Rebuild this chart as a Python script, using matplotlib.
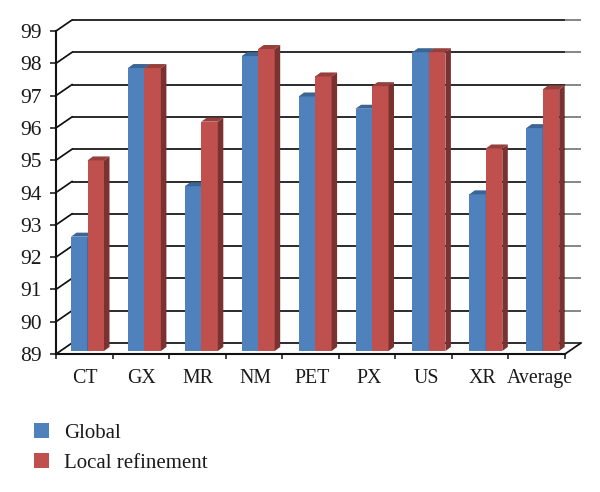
import numpy as np
import matplotlib
matplotlib.use("Agg")
import matplotlib.pyplot as plt
from matplotlib.patches import Patch, Polygon

categories = ['CT', 'GX', 'MR', 'NM', 'PET', 'PX', 'US', 'XR', 'Average']
global_vals = [92.54, 97.76, 94.1, 98.13, 96.88, 96.5, 98.25, 93.85, 95.9]
local_vals = [94.9, 97.76, 96.1, 98.35, 97.5, 97.2, 98.25, 95.27, 97.1]
y_ticks = [89, 90, 91, 92, 93, 94, 95, 96, 97, 98, 99]

plt.rcParams['font.family'] = ['Liberation Serif', 'DejaVu Serif']

W, H = 600, 492
fig = plt.figure(figsize=(W / 100, H / 100), dpi=100)
ax = fig.add_axes([56 / W, 1 - 354 / H, (565 - 56) / W, (354 - 31) / H])
ax.set_xlim(0, len(categories))
ax.set_ylim(89, 99)

# size of one pixel in data units, for the fake 3d offsets
px_x = len(categories) / (565 - 56)
px_y = 10 / (354 - 31)

# back wall and the diagonals joining it to the front axis
wall_x, wall_y = 16 * px_x, 11 * px_y
x_end = len(categories)
for v in y_ticks:
    ax.plot([wall_x, x_end], [v + wall_y, v + wall_y], color='#111111', lw=1.25,
            clip_on=False, zorder=1, solid_capstyle='butt')
    ax.plot([x_end, x_end + wall_x], [v + wall_y, v + wall_y],
            color='#222222' if v == 89 else '#777777', lw=1.25, clip_on=False, zorder=1,
            solid_capstyle='butt')
    ax.plot([0, wall_x], [v, v + wall_y], color='#111111', lw=1.25, clip_on=False, zorder=1)
ax.plot([x_end, x_end + wall_x], [89, 89 + wall_y], color='#111111', lw=1.25, clip_on=False, zorder=1)


def draw_bars(vals, xs, width, face, top, side, z):
    # base sits a little above the front axis, like the depth of the 3d bars
    sy = 3 * px_y
    dx, dy = 5.5 * px_x, 4 * px_y
    ax.bar(xs, np.array(vals) - 89, width, bottom=89 + sy, color=face, align='edge',
           clip_on=False, zorder=z, linewidth=0)
    for x, v in zip(xs, vals):
        v = v + sy
        ax.add_patch(Polygon([(x, v), (x + width, v), (x + width + dx, v + dy), (x + dx, v + dy)],
                             closed=True, fc=top, ec='none', clip_on=False, zorder=z))
        ax.add_patch(Polygon([(x + width, 89 + sy), (x + width + dx, 89 + sy + dy),
                              (x + width + dx, v + dy), (x + width, v)],
                             closed=True, fc=side, ec='none', clip_on=False, zorder=z))


# bars and labels step a bit wider than the ticks in the original
idx = np.arange(len(categories))
bar_mid = (31.5 + 56.9 * idx) * px_x
label_pos = (28.5 + 56.9 * idx) * px_x
bar_w = 16.5 * px_x
draw_bars(global_vals, bar_mid - bar_w, bar_w, '#4F81BD', '#3A6595', '#2F5580', 3)
draw_bars(local_vals, bar_mid, bar_w, '#C0504D', '#96403D', '#7A3230', 4)

for name in ['top', 'right']:
    ax.spines[name].set_visible(False)
for name in ['left', 'bottom']:
    ax.spines[name].set_linewidth(1.5)
    ax.spines[name].set_color('#111111')
    ax.spines[name].set_zorder(5)

ax.set_yticks(y_ticks)
ax.set_yticklabels([str(v) for v in y_ticks], fontsize=15.5, color='#1a1a1a')
ax.tick_params(axis='y', length=4.5, width=1.1, pad=6, color='#111111')
ax.set_xticks(np.arange(len(categories) + 1))
ax.set_xticklabels([])
ax.tick_params(axis='x', which='major', length=3.5, width=1.1, color='#111111')
ax.set_xticks(label_pos, minor=True)
ax.set_xticklabels(categories, minor=True, fontsize=14.3, color='#1a1a1a')
ax.tick_params(axis='x', which='minor', length=0, pad=11)

handles = [Patch(facecolor='#4F81BD', label='Global'),
           Patch(facecolor='#C0504D', label='Local refinement')]
leg = fig.legend(handles=handles, loc='upper left', bbox_to_anchor=(34 / W, 1 - 423 / H),
                 frameon=False, fontsize=15, handlelength=0.72, handleheight=0.7,
                 handletextpad=0.72, labelspacing=0.5, borderaxespad=0, borderpad=0)
for t in leg.get_texts():
    t.set_color('#1a1a1a')

fig.savefig('out.png', dpi=100)
